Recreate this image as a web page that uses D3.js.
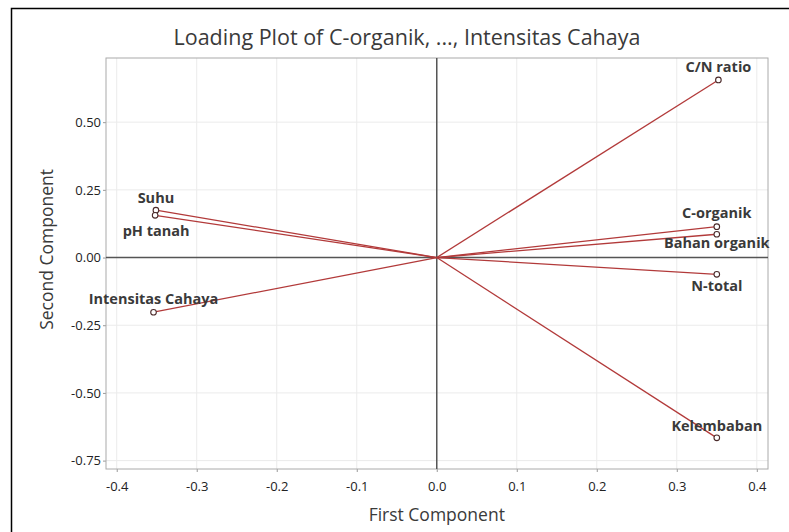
<!DOCTYPE html>
<html>
<head>
<meta charset="utf-8">
<script src="https://cdnjs.cloudflare.com/ajax/libs/d3/7.8.5/d3.min.js"></script>
<style>
  body { margin: 0; background: #fff; }
  svg { display: block; font-family: "Open Sans", "Noto Sans", sans-serif; }
</style>
</head>
<body>
<div id="chart"></div>
<script>
// loadings
var variables = ["C/N ratio", "C-organik", "Bahan organik", "N-total", "Kelembaban", "Suhu", "pH tanah", "Intensitas Cahaya"];
var pc1 = [0.352, 0.350, 0.350, 0.350, 0.350, -0.351, -0.352, -0.354];
var pc2 = [0.656, 0.114, 0.086, -0.062, -0.666, 0.175, 0.156, -0.202];
var xTicks = [-0.4, -0.3, -0.2, -0.1, 0.0, 0.1, 0.2, 0.3, 0.4];
var yTicks = [0.50, 0.25, 0.00, -0.25, -0.50, -0.75];

// label offset (px, baseline relative to point)
var labelDy = {
  "C/N ratio": -8, "C-organik": -9, "Bahan organik": 14, "N-total": 17,
  "Kelembaban": -7, "Suhu": -7, "pH tanah": 21, "Intensitas Cahaya": -8
};
var labelDx = { "pH tanah": 1, "Intensitas Cahaya": 0 };

var W = 789, H = 532,
    margin = { top: 58, right: 21, bottom: 63, left: 106 },
    width = W - margin.left - margin.right,
    height = H - margin.top - margin.bottom;

var svg = d3.select("#chart").append("svg")
  .attr("width", W)
  .attr("height", H);

// outer frame (only top and left visible in the crop)
svg.append("path")
  .attr("d", "M11.5,532 L11.5,8.5 L789,8.5")
  .attr("fill", "none")
  .attr("stroke", "#000")
  .attr("stroke-width", 1.5);

var x = d3.scaleLinear().domain([-0.4134, 0.414]).range([0, width]);
var y = d3.scaleLinear().domain([-0.781, 0.737]).range([height, 0]);

var g = svg.append("g")
  .attr("transform", "translate(" + margin.left + "," + margin.top + ")");

// grid
g.selectAll(".vgrid").data(xTicks).enter().append("line")
  .attr("x1", function(d) { return x(d); })
  .attr("x2", function(d) { return x(d); })
  .attr("y1", 0).attr("y2", height)
  .attr("stroke", "#ebebeb");
g.selectAll(".hgrid").data(yTicks).enter().append("line")
  .attr("y1", function(d) { return y(d); })
  .attr("y2", function(d) { return y(d); })
  .attr("x1", 0).attr("x2", width)
  .attr("stroke", "#ebebeb");

// axes (plain hyphen for negatives, like the original)
function fmt(p) {
  return function(d) { return d.toFixed(p); };
}
var xAxis = d3.axisBottom(x).tickValues(xTicks).tickSize(3).tickSizeOuter(0)
  .tickFormat(fmt(1));
var yAxis = d3.axisLeft(y).tickValues(yTicks).tickSize(3).tickSizeOuter(0)
  .tickFormat(fmt(2));

var xg = g.append("g").attr("transform", "translate(0," + height + ")").call(xAxis);
var yg = g.append("g").call(yAxis);
[xg, yg].forEach(function(a) {
  a.select(".domain").remove();
  a.selectAll(".tick line").attr("stroke", "#999");
  a.selectAll(".tick text")
    .attr("fill", "#222")
    .style("font-size", "13px")
    .style("font-family", "'Open Sans', sans-serif");
});
xg.selectAll(".tick text").attr("dy", "1.2em");
yg.selectAll(".tick text").attr("x", -5);

// plot frame
g.append("rect")
  .attr("width", width).attr("height", height)
  .attr("fill", "none")
  .attr("stroke", "#aaa");

// reference lines
g.append("line")
  .attr("x1", 0).attr("x2", width)
  .attr("y1", y(0)).attr("y2", y(0))
  .attr("stroke", "#555").attr("stroke-width", 1.5);
g.append("line")
  .attr("x1", x(0)).attr("x2", x(0))
  .attr("y1", 0).attr("y2", height)
  .attr("stroke", "#555").attr("stroke-width", 1.5);

var data = variables.map(function(v, i) { return { name: v, a: pc1[i], b: pc2[i] }; });

g.selectAll(".vec").data(data).enter().append("line")
  .attr("x1", x(0)).attr("y1", y(0))
  .attr("x2", function(d) { return x(d.a); })
  .attr("y2", function(d) { return y(d.b); })
  .attr("stroke", "#b23a3a")
  .attr("stroke-width", 1.3);

g.selectAll(".pt").data(data).enter().append("circle")
  .attr("cx", function(d) { return x(d.a); })
  .attr("cy", function(d) { return y(d.b); })
  .attr("r", 2.8)
  .attr("fill", "#fff")
  .attr("stroke", "#4a2a2a")
  .attr("stroke-width", 1.1);

g.selectAll(".lbl").data(data).enter().append("text")
  .attr("x", function(d) { return x(d.a) + (labelDx[d.name] || 0); })
  .attr("y", function(d) { return y(d.b) + labelDy[d.name]; })
  .attr("text-anchor", "middle")
  .attr("fill", "#3a3a3a")
  .style("font-size", "14.5px")
  .style("font-weight", "bold")
  .text(function(d) { return d.name; });

// titles
svg.append("text")
  .attr("x", 407).attr("y", 45)
  .attr("text-anchor", "middle")
  .attr("fill", "#3a3a3a")
  .style("font-size", "21.5px")
  .text("Loading Plot of C-organik, ..., Intensitas Cahaya");

svg.append("text")
  .attr("x", margin.left + x(0)).attr("y", 521)
  .attr("text-anchor", "middle")
  .attr("fill", "#3a3a3a")
  .style("font-size", "17.5px")
  .text("First Component");

svg.append("text")
  .attr("transform", "translate(53," + (margin.top + y(0.03)) + ") rotate(-90)")
  .attr("text-anchor", "middle")
  .attr("fill", "#3a3a3a")
  .style("font-size", "17.5px")
  .text("Second Component");
</script>
</body>
</html>
